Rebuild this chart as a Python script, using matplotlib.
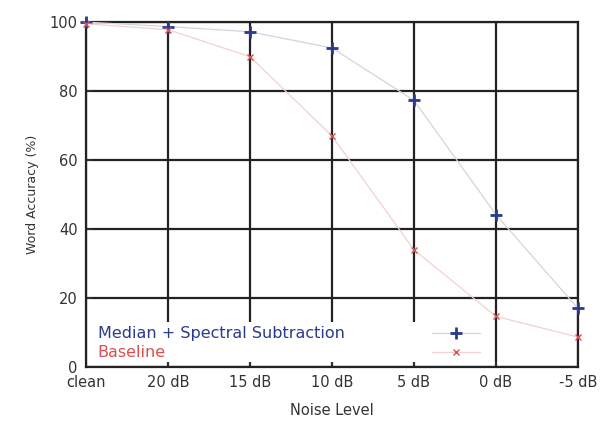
import matplotlib.pyplot as plt
from matplotlib.patches import Rectangle
from matplotlib.lines import Line2D

# noise conditions and word accuracy (%) for each system
noise_levels = ["clean", "20 dB", "15 dB", "10 dB", "5 dB", "0 dB", "-5 dB"]
median_ss = [100, 98.7, 97.2, 92.5, 77.3, 44.2, 17.0]
baseline = [99.5, 97.8, 90.0, 67.0, 34.0, 14.7, 8.7]

blue = "#2a3a8c"
red = "#d9504f"
blue_line = "#d2d5e0"
red_line = "#f3d0d1"

fig = plt.figure(figsize=(6.0, 4.21), dpi=100)
ax = fig.add_axes([0.1433, 0.128, 0.82, 0.8195])

x = list(range(len(noise_levels)))
ax.plot(x, median_ss, color=blue_line, lw=0.9, marker="+", ms=9, mew=2,
        mec=blue, clip_on=False, zorder=4)
ax.plot(x, baseline, color=red_line, lw=0.9, marker="x", ms=5, mew=1,
        mec=red, clip_on=False, zorder=4)

ax.set_xlim(0, len(noise_levels) - 1)
ax.set_ylim(0, 100)
ax.set_xticks(x)
ax.set_xticklabels(noise_levels)
ax.set_yticks([0, 20, 40, 60, 80, 100])
ax.grid(True, color="#222222", lw=1.6)
ax.set_axisbelow(True)
for sp in ax.spines.values():
    sp.set_color("#222222")
    sp.set_linewidth(1.6)
ax.tick_params(direction="in", length=4, width=1.2, labelsize=10.5,
               colors="#333333", pad=6)

ax.set_xlabel("Noise Level", fontsize=10.5, color="#333333", labelpad=9)
ax.set_ylabel("Word Accuracy (%)", fontsize=9, color="#333333", labelpad=8)

# gnuplot-style key: white box, text on the left, sample on the right
ax.add_patch(Rectangle((0.004, 0.014), 0.806, 0.118, transform=ax.transAxes,
                       fc="white", ec="none", zorder=2))
keys = [("Median + Spectral Subtraction", blue, blue_line, "+", 9, 2, 0.0986),
        ("Baseline", red, red_line, "x", 5, 1, 0.0435)]
for label, tc, lc, mk, ms, mew, yy in keys:
    ax.text(0.024, yy, label, color=tc, fontsize=11.5, va="center",
            ha="left", transform=ax.transAxes, zorder=3)
    ax.add_line(Line2D([0.703, 0.80], [yy, yy], color=lc, lw=0.9,
                       transform=ax.transAxes, zorder=3))
    ax.add_line(Line2D([0.752], [yy], marker=mk, ms=ms, mew=mew, mec=tc,
                       transform=ax.transAxes, zorder=3))

fig.savefig("out.png", dpi=100)
